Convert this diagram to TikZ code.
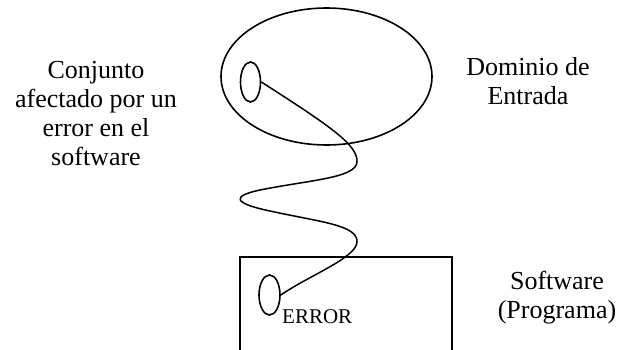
\documentclass[tikz,border=0pt]{standalone}
\usepackage{fontspec}
\setmainfont{Liberation Serif}
\usetikzlibrary{shapes.geometric}
\tikzset{
  shape line/.style={draw=black, line width=1.6pt},
  oval/.style={shape line, ellipse, inner sep=0pt},
  label text/.style={align=center, inner sep=0pt, anchor=base,
    font=\fontsize{26}{29}\selectfont},
  wire/.style={draw=black, line width=1.5pt}
}
\begin{document}
\begin{tikzpicture}[x=1pt,y=1pt]
\useasboundingbox (0,0) rectangle (621,-350);
% input domain
\node[oval, minimum width=211pt, minimum height=137pt] (dom) at (326.5,-76.5) {};
\node[oval, minimum width=20pt, minimum height=40pt] (set) at (250.5,-82) {};
% software box (open at the bottom)
\coordinate (bl) at (240,-352);
\coordinate (tl) at (240,-257);
\coordinate (tr) at (452,-257);
\coordinate (br) at (452,-352);
\draw[shape line] (bl) -- (tl) -- (tr) -- (br);
\node[oval, minimum width=21pt, minimum height=40pt] (err) at (269.5,-295) {};
\node[anchor=base west, inner sep=0pt, font=\fontsize{21}{21}\selectfont] (errtxt) at (282,-323) {ERROR};
% wavy connector
\draw[wire] (set.east) .. controls (330,-126) and (358,-145) .. (357,-162)
  .. controls (356,-178) and (310,-180) .. (260,-190)
  .. controls (232,-196) and (232,-203) .. (270,-211)
  .. controls (320,-222) and (358,-225) .. (357,-242)
  .. controls (356,-258) and (310,-275) .. (err.east);
% labels (anchor base = baseline of the last line)
\node[label text] (lset) at (96,-165) {Conjunto\\afectado por un\\error en el\\software};
\node[label text] (ldom) at (528,-105) {Dominio de\\Entrada};
\node[label text] (lsw) at (557,-318) {Software\\(Programa)};
\end{tikzpicture}
\end{document}
